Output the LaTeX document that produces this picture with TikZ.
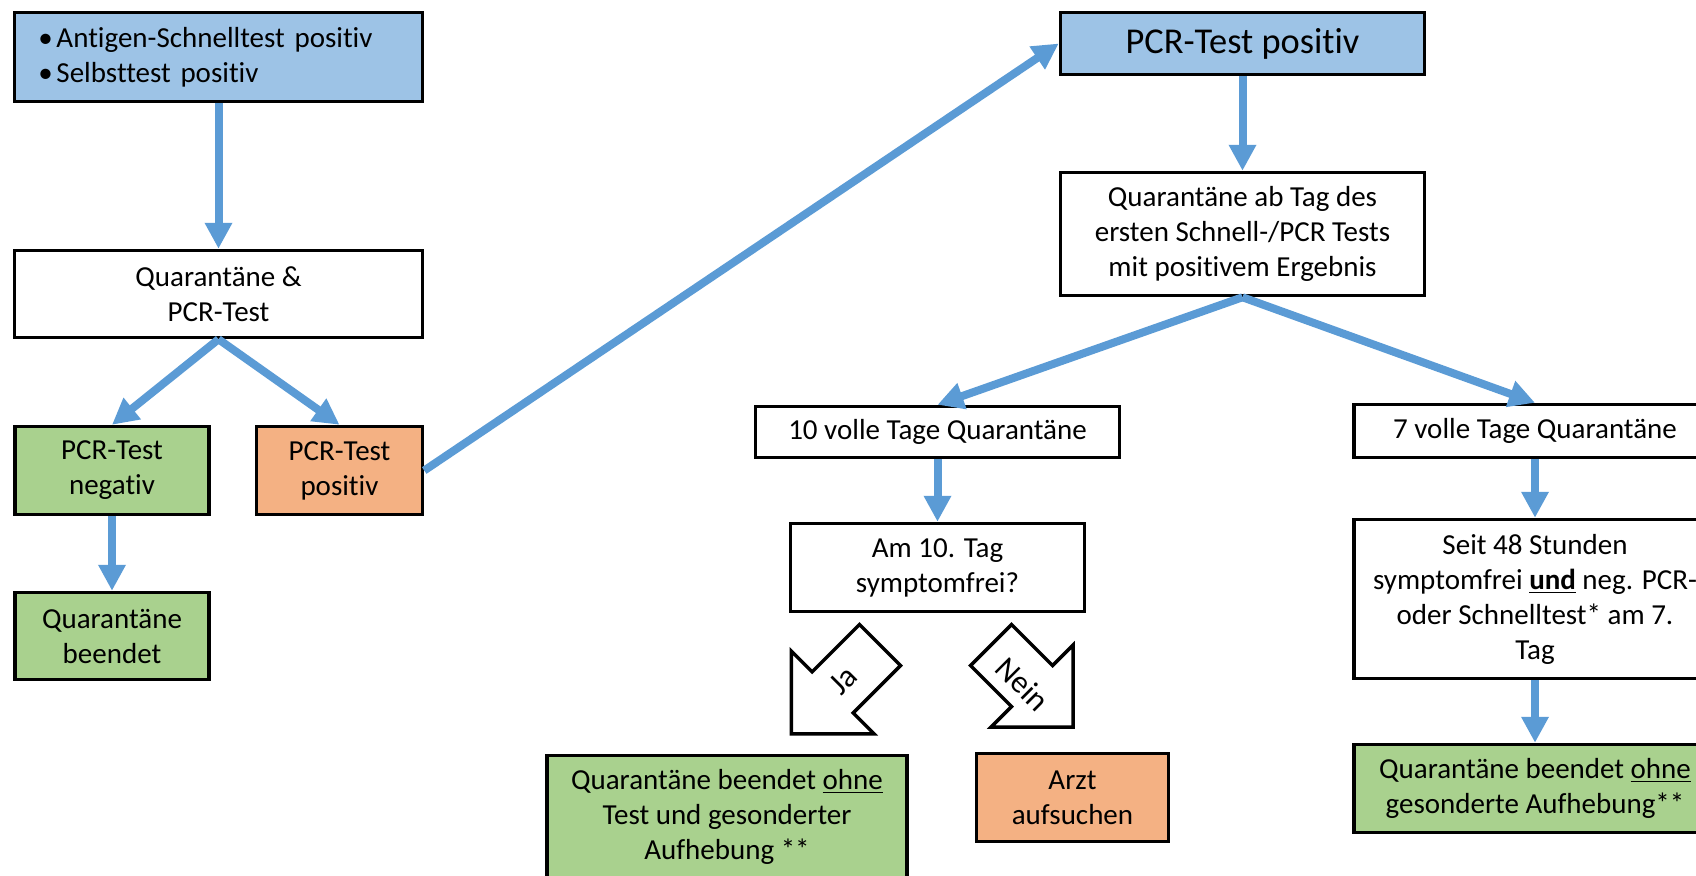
\documentclass[tikz,border=0pt]{standalone}
\usepackage{fontspec}
\setmainfont{Carlito}[Ligatures={NoCommon}]
\usepackage{tikz}
\usetikzlibrary{arrows.meta}
\usetikzlibrary{positioning}

\definecolor{startblue}{HTML}{9DC3E6}
\definecolor{okgreen}{HTML}{A9D18E}
\definecolor{warnorange}{HTML}{F4B183}
\definecolor{flowblue}{HTML}{5B9BD5}

\begin{document}
\begin{tikzpicture}[x=0.5pt, y=-0.5pt,
        font=\fontsize{14.5pt}{17.5pt}\selectfont,
        box/.style={rectangle, draw=black, line width=1.75pt, fill=white, align=center, inner sep=0pt},
        startbox/.style={box, fill=startblue},
        okbox/.style={box, fill=okgreen},
        warnbox/.style={box, fill=warnorange},
        flow/.style={draw=flowblue, line width=4pt, -{Triangle[length=13pt, width=13pt]}},
        bigarrow/.style={draw=black, line width=1.75pt, fill=white, line join=miter},
        answer/.style={inner sep=0pt, font=\fontsize{16pt}{19pt}\selectfont}
      ]
        \useasboundingbox (0,0) rectangle (1696,875);

        % left column
        \node[startbox, minimum width=204pt, minimum height=44.5pt, text width=180pt, align=left]  (antigen)  at (218.5,57)
            {\makebox[9pt][l]{\textbullet}Antigen-Schnelltest positiv\\\makebox[9pt][l]{\textbullet}Selbsttest positiv};
        \node[box, minimum width=204pt, minimum height=43.5pt]  (quarpcr)  at (218.5,294)  {Quarantäne \&\\PCR-Test};
        \node[okbox, minimum width=97pt, minimum height=44pt]  (pcrneg)  at (112,470.5)  {PCR-Test\\negativ};
        \node[warnbox, minimum width=83pt, minimum height=44pt]  (pcrpos)  at (339.5,470.5)  {PCR-Test\\positiv};
        \node[okbox, minimum width=97pt, minimum height=43.5pt]  (ended)  at (112,636)  {Quarantäne\\beendet};

        % right part
        \node[startbox, minimum width=182pt, minimum height=31pt, font=\fontsize{18.2pt}{22pt}\selectfont]  (pcrtop)  at (1242.5,43.5)  {PCR-Test positiv};
        \node[box, minimum width=182pt, minimum height=61.5pt]  (quarstart)  at (1242.5,234)
            {Quarantäne ab Tag des\\ersten Schnell-/PCR Tests\\mit positivem Ergebnis};
        \node[box, minimum width=182pt, minimum height=25.5pt]  (tendays)  at (937.5,432)  {10 volle Tage Quarantäne};
        \node[box, minimum width=147pt, minimum height=44pt]  (dayten)  at (937.5,567.5)  {Am 10. Tag\\symptomfrei?};
        \node[okbox, minimum width=180pt, minimum height=61.5pt]  (endedten)  at (727,817)
            {Quarantäne beendet \underline{ohne}\\Test und gesonderter\\Aufhebung **};
        \node[warnbox, minimum width=96pt, minimum height=44pt]  (doctor)  at (1072.5,797.5)  {Arzt\\aufsuchen};
        \node[box, minimum width=181pt, minimum height=26.5pt]  (sevendays)  at (1535,431)  {7 volle Tage Quarantäne};
        \node[box, minimum width=181pt, minimum height=79.5pt]  (sincefree)  at (1535,599)
            {Seit 48 Stunden\\symptomfrei \textbf{\underline{und}} neg. PCR-\\oder Schnelltest* am 7.\\Tag};
        \node[okbox, minimum width=181pt, minimum height=44pt]  (endedseven)  at (1535,788.5)
            {Quarantäne beendet \underline{ohne}\\gesonderte Aufhebung**};

        % Ja / Nein block arrows
        \draw[bigarrow, shift={(880,645)}, rotate=225]
            (0,-29) -- (67,-29) -- (67,-58.5) -- (125.5,0) -- (67,58.5) -- (67,29) -- (0,29) -- cycle;
        \draw[bigarrow, shift={(991,645)}, rotate=-45]
            (0,-29) -- (58,-29) -- (58,-58) -- (116,0) -- (58,58) -- (58,29) -- (0,29) -- cycle;
        \node[answer, rotate=45]  (yes)  at (843,680)  {Ja};
        \node[answer, rotate=-45]  (no)  at (1023,684)  {Nein};

        \draw[flow]  (antigen.south) -- (quarpcr.north);
        \draw[flow]  (quarpcr.south) -- (pcrneg.north);
        \draw[flow]  (quarpcr.south) -- (pcrpos.north);
        \draw[flow]  (pcrneg.south) -- (ended.north);
        \draw[flow]  (pcrpos.east) -- (pcrtop.west);
        \draw[flow]  (pcrtop.south) -- (quarstart.north);
        \draw[flow]  (quarstart.south) -- (tendays.north);
        \draw[flow]  (quarstart.south) -- (sevendays.north);
        \draw[flow]  (tendays.south) -- (dayten.north);
        \draw[flow]  (sevendays.south) -- (sincefree.north);
        \draw[flow]  (sincefree.south) -- (endedseven.north);
      \end{tikzpicture}
\end{document}
